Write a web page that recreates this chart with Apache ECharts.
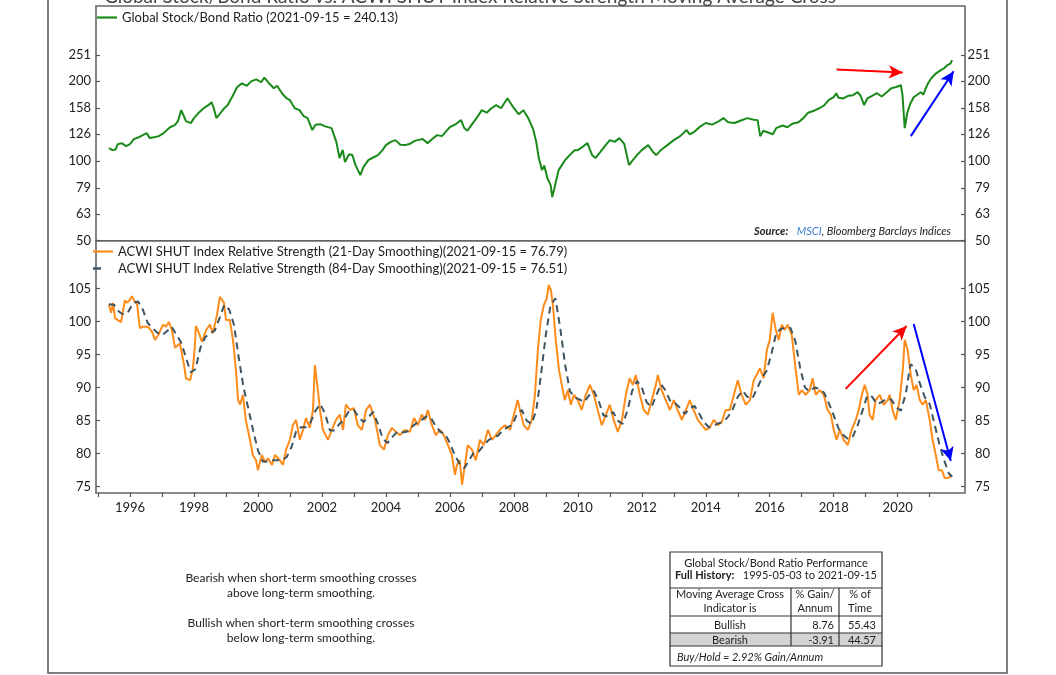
<!DOCTYPE html>
<html><head><meta charset="utf-8">
<script src="https://cdn.jsdelivr.net/npm/echarts@6/dist/echarts.min.js"></script>
<style>html,body{margin:0;padding:0;background:#fff}#c{width:1056px;height:675px}</style>
</head><body><div id="c"></div>
<script>
// ---------- DATA ----------
const ratioName = 'Global Stock/Bond Ratio (2021-09-15 = 240.13)';
const rs21Name = 'ACWI SHUT Index Relative Strength (21-Day Smoothing)(2021-09-15 = 76.79)';
const rs84Name = 'ACWI SHUT Index Relative Strength (84-Day Smoothing)(2021-09-15 = 76.51)';

// [decimal year, value]
const ratioSeries = [
[1995.34,111.7],[1995.45,109.8],[1995.55,110.5],[1995.62,115.7],[1995.75,116.5],[1995.88,113.7],[1996.0,115.7],[1996.12,120.8],
[1996.25,122.5],[1996.4,125.1],[1996.52,127.3],[1996.62,121.9],[1996.75,122.8],[1996.9,124],[1997.05,127.3],[1997.25,134],
[1997.4,136.4],[1997.5,141.2],[1997.6,155.4],[1997.68,148],[1997.75,141.2],[1997.9,138.8],[1998.0,145],[1998.15,152],
[1998.3,158],[1998.45,162.3],[1998.55,166.5],[1998.62,158],[1998.7,145],[1998.8,150],[1998.95,158],[1999.05,162.3],
[1999.2,175],[1999.35,190],[1999.5,196],[1999.65,192],[1999.8,200],[1999.95,203],[2000.1,198],[2000.2,206],
[2000.35,196],[2000.5,188],[2000.6,192],[2000.75,180],[2000.9,172],[2001.0,169.5],[2001.15,158],[2001.3,155.4],
[2001.42,148],[2001.55,145],[2001.7,130.7],[2001.8,137],[2001.95,137.6],[2002.1,135],[2002.3,132.9],[2002.45,118],
[2002.55,102.5],[2002.65,110],[2002.72,99],[2002.85,106],[2002.95,105.2],[2003.05,96.4],[2003.2,88.4],[2003.3,95],
[2003.45,100.7],[2003.6,103],[2003.75,105.2],[2003.9,110],[2004.0,114.7],[2004.15,118],[2004.3,119.8],[2004.45,115],
[2004.6,114.7],[2004.75,116],[2004.9,119],[2005.0,119.8],[2005.15,121],[2005.3,116.7],[2005.45,121],[2005.6,125.1],
[2005.75,124],[2005.9,130],[2006.0,134],[2006.2,138],[2006.35,142.5],[2006.45,133],[2006.55,130],[2006.7,138],
[2006.85,146],[2007.0,155.4],[2007.15,152],[2007.3,158],[2007.45,162.3],[2007.6,158],[2007.7,165],[2007.8,172.4],
[2007.9,165],[2008.0,158.1],[2008.15,150],[2008.3,155.4],[2008.45,145],[2008.6,132],[2008.7,118],[2008.78,102.5],
[2008.88,92.3],[2008.95,96],[2009.05,86],[2009.15,81],[2009.2,73],[2009.28,80],[2009.4,92.3],[2009.5,96.4],
[2009.6,100.7],[2009.75,105.2],[2009.9,109.8],[2010.0,109.8],[2010.15,113],[2010.3,116.7],[2010.45,105],[2010.55,102.5],
[2010.7,108],[2010.85,114],[2011.0,119.8],[2011.15,118],[2011.3,121.9],[2011.45,116],[2011.6,96.4],[2011.7,100],
[2011.85,105.2],[2012.0,109.8],[2012.2,114.7],[2012.35,108],[2012.45,105.2],[2012.6,110],[2012.8,114.7],[2013.0,119.8],
[2013.2,124],[2013.4,130.7],[2013.5,126],[2013.65,129],[2013.8,134],[2014.0,139],[2014.2,137],[2014.4,141],
[2014.55,145],[2014.7,140],[2014.9,139],[2015.1,142],[2015.3,145],[2015.5,143],[2015.62,142.5],[2015.7,124],
[2015.8,130],[2015.95,128],[2016.1,126],[2016.2,132.9],[2016.4,136],[2016.55,134],[2016.7,138],[2016.9,140],
[2017.05,145],[2017.2,152],[2017.4,155],[2017.55,158],[2017.7,162],[2017.85,170],[2018.0,174],[2018.08,180],
[2018.15,173],[2018.3,172],[2018.45,176],[2018.6,177],[2018.75,181.6],[2018.85,175],[2018.95,162.3],[2019.05,172],
[2019.2,176],[2019.35,180],[2019.5,175],[2019.65,181],[2019.8,188],[2019.95,190],[2020.1,193],[2020.15,177],
[2020.19,150],[2020.22,133],[2020.26,142],[2020.3,152],[2020.4,165],[2020.5,173.9],[2020.62,178],[2020.72,181.6],
[2020.8,178],[2020.88,188],[2020.95,196.4],[2021.05,205],[2021.2,214],[2021.35,220],[2021.45,223.6],[2021.55,229.6],
[2021.65,233],[2021.70,240.13]
];

const rs21Series = [
[1995.34,102.5],[1995.41,101.3],[1995.47,102.8],[1995.53,100.5],[1995.62,100.2],[1995.72,99.9],[1995.84,103.2],[1995.9,102.8],
[1995.97,103.1],[1996.06,103.8],[1996.12,103.2],[1996.22,102.6],[1996.31,99.0],[1996.41,99.2],[1996.56,99.2],[1996.69,98.4],
[1996.78,97.2],[1996.88,97.9],[1996.94,97.6],[1997.03,99.5],[1997.12,99.2],[1997.22,99.9],[1997.31,98.7],[1997.41,96.0],
[1997.56,96.7],[1997.69,93.4],[1997.75,91.4],[1997.88,91.1],[1997.97,93.0],[1998.03,96.4],[1998.06,99.3],[1998.12,98.7],
[1998.25,96.9],[1998.38,98.7],[1998.5,99.5],[1998.59,98.2],[1998.72,101],[1998.81,103.7],[1998.94,102.8],[1999.0,100.2],
[1999.12,100.2],[1999.22,97.2],[1999.31,92.7],[1999.38,88.1],[1999.44,87.4],[1999.53,88.9],[1999.62,85.1],[1999.75,82.1],
[1999.84,79.8],[1999.94,79.0],[2000.0,77.5],[2000.12,79.8],[2000.22,78.7],[2000.31,79.3],[2000.44,78.3],[2000.53,79.8],
[2000.69,79.0],[2000.78,78.3],[2000.88,80.6],[2001.0,82.1],[2001.09,84.3],[2001.19,85.1],[2001.31,82.1],[2001.41,83.6],
[2001.5,85.4],[2001.62,83.9],[2001.72,86.6],[2001.78,93.4],[2001.88,89.3],[2001.94,86.6],[2002.03,83.6],[2002.19,82.1],
[2002.31,83.6],[2002.44,85.1],[2002.56,85.9],[2002.66,83.6],[2002.75,87.4],[2002.88,86.6],[2003.0,86.9],[2003.12,84.3],
[2003.25,83.6],[2003.38,86.6],[2003.5,87.4],[2003.66,85.1],[2003.81,81.3],[2003.94,80.6],[2004.06,82.8],[2004.19,83.9],
[2004.31,83.3],[2004.44,82.8],[2004.59,83.6],[2004.75,83.3],[2004.88,85.4],[2005.0,84.3],[2005.12,85.9],[2005.22,85.1],
[2005.31,86.6],[2005.44,84.3],[2005.56,82.8],[2005.69,83.6],[2005.81,82.8],[2005.94,81.3],[2006.06,79.8],[2006.16,76.8],
[2006.22,78.3],[2006.31,79.0],[2006.38,75.3],[2006.47,78.3],[2006.56,81.3],[2006.69,80.6],[2006.81,79.0],[2006.94,82.1],
[2007.06,81.3],[2007.19,83.6],[2007.31,82.1],[2007.44,82.8],[2007.56,83.6],[2007.72,84.3],[2007.88,83.6],[2008.0,85.9],
[2008.12,88.1],[2008.19,86.6],[2008.31,84.3],[2008.44,83.6],[2008.56,85.1],[2008.66,88.9],[2008.75,95.7],[2008.84,100.2],
[2008.94,102.5],[2009.03,103.5],[2009.09,105.5],[2009.16,104.7],[2009.22,102.5],[2009.31,97.2],[2009.41,92.7],[2009.5,90.4],
[2009.59,88.1],[2009.69,89.6],[2009.78,87.4],[2009.88,88.9],[2010.0,88.1],[2010.12,86.6],[2010.25,88.9],[2010.38,90.4],
[2010.5,88.9],[2010.62,86.6],[2010.75,84.3],[2010.88,85.9],[2011.0,87.4],[2011.12,85.1],[2011.25,83.3],[2011.38,85.1],
[2011.5,88.9],[2011.62,91.4],[2011.72,90.4],[2011.81,91.9],[2011.94,88.9],[2012.06,86.6],[2012.19,85.9],[2012.31,88.1],
[2012.44,90.4],[2012.5,91.9],[2012.62,89.6],[2012.75,88.1],[2012.88,86.6],[2013.0,88.1],[2013.12,86.6],[2013.25,85.1],
[2013.38,86.6],[2013.5,88.1],[2013.62,86.6],[2013.75,85.1],[2013.88,84.3],[2014.0,83.6],[2014.12,83.9],[2014.25,85.1],
[2014.38,84.3],[2014.5,84.8],[2014.62,86.6],[2014.75,86.6],[2014.88,88.9],[2015.0,91.1],[2015.12,88.9],[2015.25,87.4],
[2015.38,88.1],[2015.5,91.1],[2015.59,91.9],[2015.69,92.9],[2015.81,91.4],[2015.91,95.7],[2016.0,97.2],[2016.09,101.3],
[2016.19,98.7],[2016.28,97.2],[2016.38,99.5],[2016.47,98.7],[2016.56,99.5],[2016.69,97.9],[2016.81,92.7],[2016.91,88.9],
[2017.0,89.6],[2017.12,88.9],[2017.25,89.6],[2017.34,91.4],[2017.44,88.9],[2017.56,89.6],[2017.69,88.9],[2017.81,86.6],
[2017.91,85.9],[2018.0,83.6],[2018.09,82.1],[2018.19,83.6],[2018.31,82.1],[2018.44,81.3],[2018.56,83.6],[2018.69,85.1],
[2018.78,86.6],[2018.88,88.9],[2018.97,90.4],[2019.06,88.9],[2019.12,85.9],[2019.22,85.1],[2019.31,88.1],[2019.44,88.9],
[2019.56,87.4],[2019.69,88.1],[2019.75,88.9],[2019.84,86.6],[2019.94,85.1],[2020.06,88.1],[2020.16,92.7],[2020.22,97.2],
[2020.31,95.7],[2020.41,91.9],[2020.5,89.6],[2020.59,90.4],[2020.69,88.1],[2020.78,87.4],[2020.88,88.1],[2021.0,85.1],
[2021.09,82.1],[2021.19,79.8],[2021.28,77.5],[2021.38,77.5],[2021.47,76.3],[2021.56,76.3],[2021.66,76.6],[2021.70,76.79]
];

const rs84Series = [
[1995.34,102.6],[1995.5,102.5],[1995.65,101.5],[1995.8,101.0],[1995.95,101.5],[1996.1,102.8],[1996.25,103.0],[1996.4,101.8],
[1996.55,99.8],[1996.7,99.0],[1996.85,98.3],[1997.0,97.9],[1997.15,98.5],[1997.3,99.2],[1997.45,98.0],[1997.6,96.8],
[1997.75,94.5],[1997.9,92.3],[1998.05,92.8],[1998.2,96.0],[1998.35,97.6],[1998.5,98.2],[1998.65,98.6],[1998.8,100.5],
[1998.95,102.5],[1999.1,101.8],[1999.25,99.5],[1999.4,94.5],[1999.55,90.0],[1999.7,86.8],[1999.85,83.5],[2000.0,80.5],
[2000.15,78.8],[2000.3,78.8],[2000.45,79.0],[2000.6,79.0],[2000.75,79.0],[2000.9,79.5],[2001.05,81.0],[2001.2,83.5],
[2001.35,84.0],[2001.5,84.0],[2001.65,84.8],[2001.8,86.5],[2001.95,87.5],[2002.1,86.0],[2002.25,83.5],[2002.4,83.5],
[2002.55,84.5],[2002.7,85.2],[2002.85,86.5],[2003.0,86.6],[2003.15,85.5],[2003.3,84.8],[2003.45,85.5],[2003.6,86.3],
[2003.75,84.5],[2003.9,82.3],[2004.05,81.6],[2004.2,82.5],[2004.35,83.3],[2004.5,83.2],[2004.65,83.3],[2004.8,84.0],
[2004.95,84.6],[2005.1,85.0],[2005.25,85.6],[2005.4,85.5],[2005.55,84.2],[2005.7,83.3],[2005.85,83.0],[2006.0,81.6],
[2006.15,79.8],[2006.3,78.5],[2006.45,77.8],[2006.6,79.0],[2006.75,80.2],[2006.9,80.3],[2007.05,81.2],[2007.2,82.0],
[2007.35,82.5],[2007.5,82.7],[2007.65,83.5],[2007.8,84.0],[2007.95,84.3],[2008.1,86.0],[2008.25,86.6],[2008.4,85.0],
[2008.55,84.5],[2008.7,86.5],[2008.85,92.0],[2009.0,98.0],[2009.15,102.5],[2009.3,103.5],[2009.45,99.0],[2009.6,93.5],
[2009.75,89.5],[2009.9,88.5],[2010.05,88.2],[2010.2,87.8],[2010.35,88.8],[2010.5,89.5],[2010.65,88.0],[2010.8,85.8],
[2010.95,85.6],[2011.1,86.3],[2011.25,85.0],[2011.4,84.5],[2011.55,86.5],[2011.7,89.5],[2011.85,91.0],[2012.0,90.0],
[2012.15,87.8],[2012.3,87.0],[2012.45,88.8],[2012.6,90.5],[2012.75,89.5],[2012.9,87.8],[2013.05,87.6],[2013.2,86.9],
[2013.35,86.0],[2013.5,86.9],[2013.65,87.2],[2013.8,86.0],[2013.95,84.7],[2014.1,84.0],[2014.25,84.2],[2014.4,84.6],
[2014.55,84.8],[2014.7,85.6],[2014.85,86.8],[2015.0,88.6],[2015.15,89.5],[2015.3,88.6],[2015.45,88.3],[2015.6,89.8],
[2015.75,91.4],[2015.9,92.5],[2016.05,95.0],[2016.2,98.2],[2016.35,98.9],[2016.5,99.0],[2016.65,99.0],[2016.8,97.0],
[2016.95,93.0],[2017.1,90.0],[2017.25,89.4],[2017.4,90.0],[2017.55,89.8],[2017.7,89.2],[2017.85,87.6],[2018.0,85.8],
[2018.15,83.8],[2018.3,82.8],[2018.45,82.2],[2018.6,82.6],[2018.75,84.3],[2018.9,86.5],[2019.05,88.8],[2019.2,88.6],
[2019.35,87.5],[2019.5,87.8],[2019.65,88.3],[2019.8,88.2],[2019.95,87.0],[2020.1,86.5],[2020.25,89.0],[2020.4,93.5],
[2020.55,93.0],[2020.7,90.5],[2020.85,88.5],[2021.0,87.5],[2021.15,84.5],[2021.3,81.5],[2021.45,79.0],[2021.6,77.0],
[2021.70,76.51]
];

const yearTicks = [1995,1996,1997,1998,1999,2000,2001,2002,2003,2004,2005,2006,2007,2008,2009,2010,2011,2012,2013,2014,2015,2016,2017,2018,2019,2020,2021];
const yearLabels = [1996,1998,2000,2002,2004,2006,2008,2010,2012,2014,2016,2018,2020];
const ratioTicks = [50,63,79,100,126,158,200,251];
const rsTicks = [75,80,85,90,95,100,105];

// annotation arrows: [start, end] in data coordinates
const ratioArrows = [
  {color:'#ff0000', from:[2018.09,221], to:[2020.16,215.5]},
  {color:'#0000ff', from:[2020.41,124], to:[2021.75,218]}
];
const rsArrows = [
  {color:'#ff0000', from:[2018.375,89.8], to:[2020.28,99.3]},
  {color:'#0000ff', from:[2020.5,99.6], to:[2021.66,78.9]}
];

const titleText = 'Global Stock/Bond Ratio vs. ACWI SHUT Index Relative Strength Moving Average Cross';
const noteLines = ['Bearish when short-term smoothing crosses','above long-term smoothing.','','Bullish when short-term smoothing crosses','below long-term smoothing.'];
const tableTitle = 'Global Stock/Bond Ratio Performance';
const tablePeriod = ['Full History:', '1995-05-03 to 2021-09-15'];
const tableHeader = [['Moving Average Cross','Indicator is'],['% Gain/','Annum'],['% of','Time']];
const tableRows = [['Bullish','8.76','55.43'],['Bearish','-3.91','44.57']];
const tableFooter = 'Buy/Hold = 2.92% Gain/Annum';

// ---------- CHART ----------
const FONT = 'Lato';
const X_MIN = 1994.937, X_MAX = 2022.104;
const chart = echarts.init(document.getElementById('c'), null, {renderer:'canvas'});

function arrowLines(list){
  return list.map(a => [
    {coord:a.from, symbol:'none', lineStyle:{color:a.color, width:2, type:'solid'}, itemStyle:{color:a.color}},
    {coord:a.to, symbol:'arrow', symbolSize:[10,14], itemStyle:{color:a.color}}
  ]);
}

const axisLabelStyle = {color:'#222', fontSize:13, fontFamily:FONT};
const tickStyle = {lineStyle:{color:'#555', width:1.2}};

const G = []; // graphic elements
G.push({type:'rect', shape:{x:48, y:-5, width:959, height:678}, style:{fill:'none', stroke:'#555', lineWidth:1.5}, silent:true, z:0});
G.push({type:'text', x:470, y:-3, style:{text:titleText, fontSize:19, fontFamily:FONT, fill:'#444', align:'center', verticalAlign:'middle'}});
G.push({type:'text', x:951, y:231, style:{
  text:'{b|Source:}   {l|MSCI}{i|, Bloomberg Barclays Indices}',
  align:'right', verticalAlign:'middle', fontSize:11, fontFamily:FONT, fill:'#222',
  rich:{b:{fontWeight:'bold', fontStyle:'italic', fontSize:11, fontFamily:FONT, fill:'#222'},
        l:{fontStyle:'italic', fontSize:11, fontFamily:FONT, fill:'#3d7fd1'},
        i:{fontStyle:'italic', fontSize:11, fontFamily:FONT, fill:'#222'}}
}});
// notes
const noteY = [578, 593, 0, 623, 638];
noteLines.forEach((t,i)=>{ if(t) G.push({type:'text', x:301, y:noteY[i], style:{text:t, fontSize:12, fontFamily:FONT, fill:'#222', align:'center', verticalAlign:'middle'}}); });
// table
const TL=670, TR=882, TT=552, TB=666;
G.push({type:'rect', shape:{x:TL, y:633, width:TR-TL, height:13}, style:{fill:'#d3d3d3'}, silent:true});
G.push({type:'rect', shape:{x:TL, y:TT, width:TR-TL, height:TB-TT}, style:{fill:'none', stroke:'#333', lineWidth:1.2}, silent:true});
[588,616,633,646].forEach(y=>G.push({type:'line', shape:{x1:TL,y1:y,x2:TR,y2:y}, style:{stroke:'#333', lineWidth:1.2}, silent:true}));
[791,839].forEach(x=>G.push({type:'line', shape:{x1:x,y1:588,x2:x,y2:646}, style:{stroke:'#333', lineWidth:1.2}, silent:true}));
const tfs = {fontSize:11, fontFamily:FONT, fill:'#222', verticalAlign:'middle'};
G.push({type:'text', x:776, y:563.5, style:Object.assign({text:tableTitle, align:'center'}, tfs)});
G.push({type:'text', x:776, y:575.5, style:Object.assign({text:'{b|'+tablePeriod[0]+'}   '+tablePeriod[1], align:'center',
  rich:{b:{fontWeight:'bold', fontSize:11, fontFamily:FONT, fill:'#222'}}}, tfs)});
const colC = [730, 815, 860];
tableHeader.forEach((h,i)=>{
  G.push({type:'text', x:colC[i], y:594.5, style:Object.assign({text:h[0], align:'center'}, tfs)});
  G.push({type:'text', x:colC[i], y:608.5, style:Object.assign({text:h[1], align:'center'}, tfs)});
});
const rowY = [625, 640];
tableRows.forEach((r,i)=>{
  G.push({type:'text', x:730, y:rowY[i], style:Object.assign({text:r[0], align:'center'}, tfs)});
  G.push({type:'text', x:834, y:rowY[i], style:Object.assign({text:r[1], align:'right'}, tfs)});
  G.push({type:'text', x:876, y:rowY[i], style:Object.assign({text:r[2], align:'right'}, tfs)});
});
G.push({type:'text', x:677, y:657, style:Object.assign({text:tableFooter, align:'left', fontStyle:'italic'}, tfs)});

const lineIcon = 'path://M0,0H20V2.2H0Z';
const dashIcon = 'path://M0,0H8V2.4H0ZM19.9,0H20V2.4H19.9Z';
const legendText = {fontSize:13, color:'#222', fontFamily:FONT};

const option = {
  animation:false,
  textStyle:{fontFamily:FONT},
  graphic:G,
  legend:[
    {data:[{name:ratioName, icon:lineIcon, itemStyle:{color:'#1a8a1a'}}], left:97, top:11, padding:0, itemWidth:20, itemHeight:2.2, textStyle:legendText, selectedMode:false},
    {data:[{name:rs21Name, icon:lineIcon, itemStyle:{color:'#ff8c1a'}},{name:rs84Name, icon:dashIcon, itemStyle:{color:'#3d5462'}}],
     orient:'vertical', left:93, top:245, padding:0, itemGap:4, itemWidth:20, itemHeight:2.4, textStyle:legendText, selectedMode:false}
  ],
  grid:[
    {left:96, right:91, top:6, height:234.7, show:true, borderColor:'#666', borderWidth:1.6, backgroundColor:'transparent', outerBoundsMode:'none'},
    {left:96, right:91, top:240.7, height:252.3, show:true, borderColor:'#666', borderWidth:1.6, backgroundColor:'transparent', outerBoundsMode:'none'}
  ],
  xAxis:[
    {type:'value', gridIndex:0, min:X_MIN, max:X_MAX, show:false},
    {type:'value', gridIndex:1, min:X_MIN, max:X_MAX,
     axisLine:{show:false}, splitLine:{show:false},
     axisTick:{show:true, inside:false, length:4, customValues:yearTicks, lineStyle:{color:'#555', width:1.2}},
     axisLabel:Object.assign({customValues:yearLabels, margin:8, formatter:v=>String(Math.round(v))}, axisLabelStyle)}
  ],
  yAxis:[
    {type:'log', gridIndex:0, position:'left', min:50, max:384, logBase:10,
     axisLine:{show:false}, splitLine:{show:false}, minorTick:{show:false},
     axisTick:Object.assign({show:true, inside:true, length:4, customValues:ratioTicks}, tickStyle),
     axisLabel:Object.assign({customValues:ratioTicks, margin:5, formatter:v=>String(Math.round(v))}, axisLabelStyle)},
    {type:'log', gridIndex:0, position:'right', min:50, max:384, logBase:10,
     axisLine:{show:false}, splitLine:{show:false}, minorTick:{show:false},
     axisTick:Object.assign({show:true, inside:true, length:4, customValues:ratioTicks}, tickStyle),
     axisLabel:Object.assign({customValues:ratioTicks, margin:25, align:'right', formatter:v=>String(Math.round(v))}, axisLabelStyle)},
    {type:'value', gridIndex:1, position:'left', min:74.05, max:112.2,
     axisLine:{show:false}, splitLine:{show:false},
     axisTick:Object.assign({show:true, inside:true, length:4, customValues:rsTicks}, tickStyle),
     axisLabel:Object.assign({customValues:rsTicks, margin:5}, axisLabelStyle)},
    {type:'value', gridIndex:1, position:'right', min:74.05, max:112.2,
     axisLine:{show:false}, splitLine:{show:false},
     axisTick:Object.assign({show:true, inside:true, length:4, customValues:rsTicks}, tickStyle),
     axisLabel:Object.assign({customValues:rsTicks, margin:25, align:'right'}, axisLabelStyle)}
  ],
  series:[
    {name:ratioName, type:'line', xAxisIndex:0, yAxisIndex:0, data:ratioSeries, symbol:'none', smooth:false,
     lineStyle:{color:'#1a8a1a', width:2}, itemStyle:{color:'#1a8a1a'}, z:3,
     markLine:{silent:true, symbol:['none','arrow'], symbolSize:14, label:{show:false}, emphasis:{disabled:true},
       data:arrowLines(ratioArrows)}},
    {name:rs21Name, type:'line', xAxisIndex:1, yAxisIndex:2, data:rs21Series, symbol:'none',
     lineStyle:{color:'#ff8c1a', width:2}, itemStyle:{color:'#ff8c1a'}, z:3,
     markLine:{silent:true, symbol:['none','arrow'], symbolSize:14, label:{show:false}, emphasis:{disabled:true},
       data:arrowLines(rsArrows)}},
    {name:rs84Name, type:'line', xAxisIndex:1, yAxisIndex:2, data:rs84Series, symbol:'none',
     lineStyle:{color:'#3d5462', width:2, type:[7,5]}, itemStyle:{color:'#3d5462'}, z:4}
  ]
};
chart.setOption(option);
</script></body></html>
